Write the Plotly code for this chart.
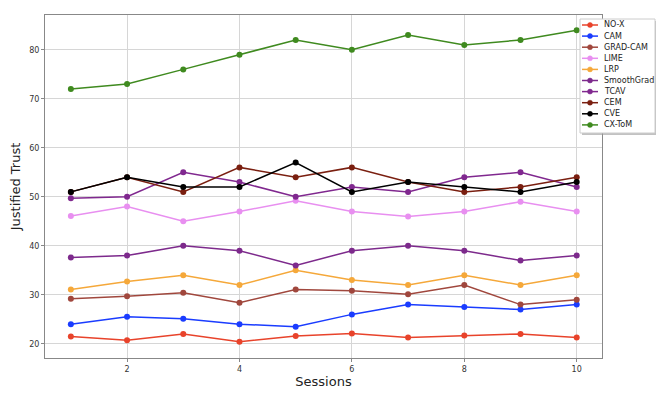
import plotly.graph_objects as go

sessions = [1, 2, 3, 4, 5, 6, 7, 8, 9, 10]

no_x = [21.5, 20.7, 22.0, 20.4, 21.6, 22.1, 21.3, 21.7, 22.0, 21.3]
cam = [24.0, 25.5, 25.1, 24.0, 23.5, 26.0, 28.0, 27.5, 27.0, 28.0]
grad_cam = [29.2, 29.7, 30.4, 28.4, 31.1, 30.8, 30.1, 32.0, 28.0, 29.0]
lime = [46.1, 48.0, 45.0, 47.0, 49.2, 47.0, 46.0, 47.0, 49.0, 47.0]
lrp = [31.1, 32.7, 34.0, 32.0, 35.0, 33.0, 32.0, 34.0, 32.0, 34.0]
smoothgrad = [37.6, 38.0, 40.0, 39.0, 36.0, 39.0, 40.0, 39.0, 37.0, 38.0]
tcav = [49.7, 50.0, 55.0, 53.0, 50.0, 52.0, 51.0, 54.0, 55.0, 52.0]
cem = [51.0, 54.0, 51.0, 56.0, 54.0, 56.0, 53.0, 51.0, 52.0, 54.0]
cve = [51.0, 54.0, 52.0, 52.0, 57.0, 51.0, 53.0, 52.0, 51.0, 53.0]
cx_tom = [72.0, 73.0, 76.0, 79.0, 82.0, 80.0, 83.0, 81.0, 82.0, 84.0]

series = [
    ("NO-X", no_x, "#e8432b"),
    ("CAM", cam, "#1a3cff"),
    ("GRAD-CAM", grad_cam, "#a0473d"),
    ("LIME", lime, "#e88ff0"),
    ("LRP", lrp, "#f5a83a"),
    ("SmoothGrad", smoothgrad, "#7d2a8c"),
    ("TCAV", tcav, "#80288f"),
    ("CEM", cem, "#7a1f10"),
    ("CVE", cve, "#000000"),
    ("CX-ToM", cx_tom, "#3f8a1f"),
]

# the page body has an 8px margin, so lay the figure out 8px smaller
OFF = 8
W, H = 664 - OFF, 394 - OFF
ML, MT = 45 - OFF, 15 - OFF
MR, MB = 62, 36
PW, PH = W - ML - MR, H - MT - MB


def px(x):
    # reference pixel -> paper coordinate
    return (x - OFF - ML) / PW


def py(y):
    return 1 - (y - OFF - MT) / PH


fig = go.Figure()
for name, vals, color in series:
    fig.add_trace(go.Scatter(
        x=sessions, y=vals, name=name, mode="lines+markers",
        line=dict(color=color, width=1.5),
        marker=dict(color=color, size=6),
        showlegend=False,
    ))

# hand-made legend box (matplotlib style, tighter than plotly's own)
shapes = [
    dict(type="rect", xref="paper", yref="paper", layer="above",
         x0=px(582), x1=px(657), y0=py(21), y1=py(135),
         fillcolor="#9a9a9a", line=dict(width=0), opacity=0.6),
    dict(type="rect", xref="paper", yref="paper", layer="above",
         x0=px(580), x1=px(655), y0=py(19), y1=py(133),
         fillcolor="white", line=dict(color="#cccccc", width=1)),
]
annotations = []
for i, (name, vals, color) in enumerate(series):
    yy = 25 + i * 11.1
    shapes.append(dict(type="line", xref="paper", yref="paper", layer="above",
                       x0=px(582), x1=px(598), y0=py(yy), y1=py(yy),
                       line=dict(color=color, width=1.5)))
    shapes.append(dict(type="circle", xref="paper", yref="paper", layer="above",
                       x0=px(587.5), x1=px(592.5), y0=py(yy + 2.5), y1=py(yy - 2.5),
                       fillcolor=color, line=dict(color=color, width=0.5)))
    annotations.append(dict(xref="paper", yref="paper", x=px(602), y=py(yy),
                            xanchor="left", yanchor="middle", showarrow=False,
                            text=name, font=dict(size=8, color="#222222")))

axis_common = dict(
    showgrid=True, gridcolor="#d6d6d6", gridwidth=1,
    showline=True, linecolor="#888888", linewidth=1, mirror=True,
    ticks="outside", ticklen=3, tickcolor="#888888",
    tickfont=dict(size=8, color="#333333"),
    zeroline=False,
)

fig.update_xaxes(axis_common, range=[0.54, 10.45], dtick=2,
                 title=dict(text="Sessions", font=dict(size=13, color="#222222"), standoff=4))
fig.update_yaxes(axis_common, range=[17.1, 87.1], dtick=10,
                 title=dict(text="Justified Trust", font=dict(size=13, color="#222222"), standoff=6))

fig.update_layout(
    width=W, height=H,
    margin=dict(l=ML, r=MR, t=MT, b=MB, autoexpand=False),
    paper_bgcolor="white", plot_bgcolor="white",
    font=dict(family="DejaVu Sans"),
    shapes=shapes, annotations=annotations,
)

fig.write_html("out.html")
